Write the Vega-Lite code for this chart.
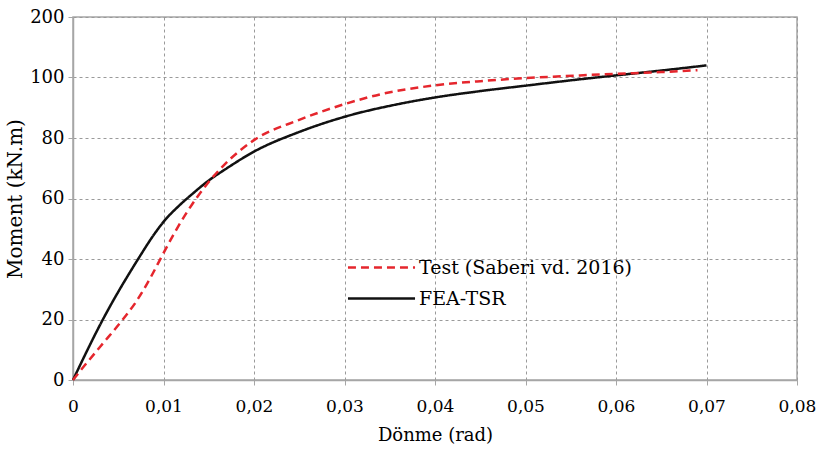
{
  "$schema": "https://vega.github.io/schema/vega-lite/v6.json",
  "width": 724,
  "height": 363,
  "autosize": {"type": "none"},
  "padding": {"left": 73, "top": 17, "right": 24, "bottom": 70},
  "background": "white",
  "config": {
    "font": "DejaVu Serif",
    "view": {"stroke": "#a6a6a6", "strokeWidth": 1.5},
    "axis": {
      "gridColor": "#9a9a9a",
      "gridDash": [3, 3],
      "gridWidth": 1,
      "domainColor": "#a6a6a6",
      "domainWidth": 1.5,
      "tickColor": "#a6a6a6",
      "tickSize": 5,
      "labelColor": "#000",
      "titleColor": "#000",
      "labelFont": "DejaVu Serif",
      "titleFont": "DejaVu Serif",
      "titleFontWeight": "normal"
    },
    "legend": {
      "labelFont": "DejaVu Serif"
    }
  },
  "data": {
    "values": [
      {"s": "FEA-TSR", "x": 0, "y": 0},
      {"s": "FEA-TSR", "x": 0.0033, "y": 20},
      {"s": "FEA-TSR", "x": 0.0072, "y": 40},
      {"s": "FEA-TSR", "x": 0.009, "y": 48.3},
      {"s": "FEA-TSR", "x": 0.0102, "y": 53},
      {"s": "FEA-TSR", "x": 0.0115, "y": 57},
      {"s": "FEA-TSR", "x": 0.0133, "y": 61.8},
      {"s": "FEA-TSR", "x": 0.0148, "y": 65.5},
      {"s": "FEA-TSR", "x": 0.017, "y": 70},
      {"s": "FEA-TSR", "x": 0.02, "y": 75.5},
      {"s": "FEA-TSR", "x": 0.025, "y": 82},
      {"s": "FEA-TSR", "x": 0.03, "y": 87},
      {"s": "FEA-TSR", "x": 0.0361, "y": 91.3},
      {"s": "FEA-TSR", "x": 0.04, "y": 93.4},
      {"s": "FEA-TSR", "x": 0.045, "y": 95.5},
      {"s": "FEA-TSR", "x": 0.05, "y": 97.3},
      {"s": "FEA-TSR", "x": 0.056, "y": 99.4},
      {"s": "FEA-TSR", "x": 0.06, "y": 100.7},
      {"s": "FEA-TSR", "x": 0.065, "y": 102.3},
      {"s": "FEA-TSR", "x": 0.07, "y": 104},
      {"s": "Test (Saberi vd. 2016)", "x": 0, "y": 0},
      {"s": "Test (Saberi vd. 2016)", "x": 0.0008, "y": 3},
      {"s": "Test (Saberi vd. 2016)", "x": 0.003, "y": 11},
      {"s": "Test (Saberi vd. 2016)", "x": 0.0055, "y": 20},
      {"s": "Test (Saberi vd. 2016)", "x": 0.007, "y": 26},
      {"s": "Test (Saberi vd. 2016)", "x": 0.0085, "y": 33.5},
      {"s": "Test (Saberi vd. 2016)", "x": 0.0098, "y": 40.8},
      {"s": "Test (Saberi vd. 2016)", "x": 0.011, "y": 47.5},
      {"s": "Test (Saberi vd. 2016)", "x": 0.0126, "y": 55.5},
      {"s": "Test (Saberi vd. 2016)", "x": 0.0146, "y": 64},
      {"s": "Test (Saberi vd. 2016)", "x": 0.0166, "y": 70.8},
      {"s": "Test (Saberi vd. 2016)", "x": 0.02, "y": 79.3},
      {"s": "Test (Saberi vd. 2016)", "x": 0.025, "y": 86},
      {"s": "Test (Saberi vd. 2016)", "x": 0.03, "y": 91.2},
      {"s": "Test (Saberi vd. 2016)", "x": 0.0339, "y": 94.4},
      {"s": "Test (Saberi vd. 2016)", "x": 0.04, "y": 97.4},
      {"s": "Test (Saberi vd. 2016)", "x": 0.045, "y": 98.8},
      {"s": "Test (Saberi vd. 2016)", "x": 0.05, "y": 99.8},
      {"s": "Test (Saberi vd. 2016)", "x": 0.056, "y": 100.7},
      {"s": "Test (Saberi vd. 2016)", "x": 0.06, "y": 101.2},
      {"s": "Test (Saberi vd. 2016)", "x": 0.065, "y": 101.8},
      {"s": "Test (Saberi vd. 2016)", "x": 0.069, "y": 102.4}
    ]
  },
  "mark": {"type": "line", "interpolate": "monotone", "strokeWidth": 2.5},
  "encoding": {
    "x": {
      "field": "x",
      "type": "quantitative",
      "scale": {"domain": [0, 0.08], "nice": false},
      "axis": {
        "title": "Dönme (rad)",
        "titleFontSize": 18,
        "titlePadding": 12,
        "labelFontSize": 17,
        "labelPadding": 13,
        "values": [0, 0.01, 0.02, 0.03, 0.04, 0.05, 0.06, 0.07, 0.08],
        "labelExpr": "replace(format(datum.value, '.2~f'), '.', ',')",
        "labelFlush": false
      }
    },
    "y": {
      "field": "y",
      "type": "quantitative",
      "scale": {"domain": [0, 120], "nice": false},
      "axis": {
        "title": "Moment (kN.m)",
        "titleFontSize": 20,
        "titlePadding": 4,
        "labelFontSize": 18,
        "labelPadding": 4,
        "values": [0, 20, 40, 60, 80, 100, 120],
        "labelExpr": "datum.value == 120 ? '200' : datum.label"
      }
    },
    "color": {
      "field": "s",
      "type": "nominal",
      "scale": {
        "domain": ["Test (Saberi vd. 2016)", "FEA-TSR"],
        "range": ["#e5262d", "#111111"]
      },
      "legend": {
        "title": null,
        "orient": "none",
        "legendX": 299,
        "legendY": 241,
        "padding": 0,
        "symbolType": "M-10,0H10",
        "symbolSize": 45,
        "symbolStrokeWidth": 2.5,
        "labelFontSize": 19,
        "labelColor": "#000",
        "labelOffset": 28,
        "labelLimit": 0,
        "rowPadding": 11
      }
    },
    "strokeDash": {
      "field": "s",
      "type": "nominal",
      "scale": {
        "domain": ["Test (Saberi vd. 2016)", "FEA-TSR"],
        "range": [[8, 5], [1, 0]]
      },
      "legend": {
        "title": null,
        "orient": "none",
        "legendX": 299,
        "legendY": 241,
        "padding": 0,
        "symbolType": "M-10,0H10",
        "symbolSize": 45,
        "symbolStrokeWidth": 2.5,
        "labelFontSize": 19,
        "labelColor": "#000",
        "labelOffset": 28,
        "labelLimit": 0,
        "rowPadding": 11
      }
    }
  }
}
